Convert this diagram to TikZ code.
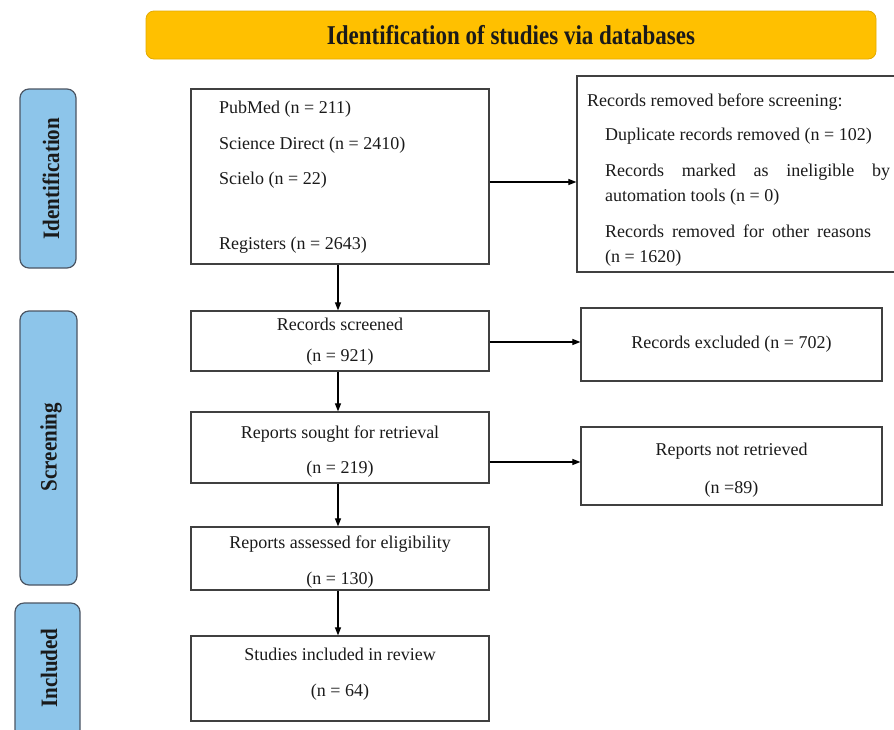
\documentclass[tikz,border=0pt]{standalone}
\usepackage{fontspec}
\setmainfont{Liberation Serif}
\usetikzlibrary{arrows.meta}
\definecolor{boxgray}{HTML}{404040}
\definecolor{sideblue}{HTML}{8DC5EA}
\definecolor{sideline}{HTML}{4B5563}
\definecolor{bannerfill}{HTML}{FFC000}
\definecolor{bannerline}{HTML}{E3AA00}
\definecolor{ink}{HTML}{1A1A1A}
\begin{document}
\begin{tikzpicture}[x=1pt,y=-1pt,
  box/.style={draw=boxgray, line width=1.2pt, rectangle, inner sep=0pt},
  side/.style={draw=sideline, fill=sideblue, line width=1.2pt, rounded corners=9pt, inner sep=0pt},
  banner/.style={draw=bannerline, fill=bannerfill, line width=0.8pt, rounded corners=8pt, inner sep=0pt},
  txt/.style={font=\fontsize{18}{22}\selectfont, text=ink, inner sep=0pt},
  lab/.style={font=\fontsize{21}{24}\selectfont\bfseries, text=ink, rotate=90, inner sep=0pt},
  arr/.style={-{Triangle[length=8pt,width=6pt]}, line width=1.1pt, draw=black}]
\useasboundingbox (0,0) rectangle (894,729);
\clip (0,0) rectangle (894,729);

% banner
\node[banner, minimum width=730pt, minimum height=48pt] (title) at (511,35) {};
\node[inner sep=0pt, text=ink] (titletxt) at (511,35) {\scalebox{1}[1.18]{\fontsize{23}{26}\selectfont\bfseries Identification of studies via databases}};

% side bars
\node[side, minimum width=56pt, minimum height=179pt] (sideid) at (48,178.5) {};
\node[lab] (sideidtxt) at (51,178.5) {\scalebox{1}[1.12]{Identification}};
\node[side, minimum width=57pt, minimum height=274pt] (sidescr) at (48.5,448) {};
\node[lab] (sidescrtxt) at (51,447) {\scalebox{1}[1.12]{Screening}};
\node[side, minimum width=65pt, minimum height=150pt] (sideinc) at (47.5,678) {};
\node[lab] (sideinctxt) at (49,668) {\scalebox{1}[1.12]{Included}};

% main column boxes
\node[box, minimum width=298pt, minimum height=175pt] (src) at (340,176.5) {};
\node[box, minimum width=298pt, minimum height=60pt] (scr) at (340,341) {};
\node[box, minimum width=298pt, minimum height=71pt] (sought) at (340,447.5) {};
\node[box, minimum width=298pt, minimum height=63pt] (assess) at (340,558.5) {};
\node[box, minimum width=298pt, minimum height=85pt] (incl) at (340,678.5) {};

% right column boxes
\node[box, minimum width=340pt, minimum height=196pt] (removed) at (747,174) {};
\node[box, minimum width=301pt, minimum height=73pt] (excl) at (731.5,344.5) {};
\node[box, minimum width=301pt, minimum height=78pt] (notret) at (731.5,466) {};

% texts: sources
\node[txt, anchor=base west] (t1) at (219,113) {PubMed (n = 211)};
\node[txt, anchor=base west] (t2) at (219,149) {Science Direct (n = 2410)};
\node[txt, anchor=base west] (t3) at (219,184) {Scielo (n = 22)};
\node[txt, anchor=base west] (t4) at (219,249) {Registers (n = 2643)};

% texts: removed
\node[txt, anchor=base west] (r0) at (587,106) {Records removed before screening:};
\node[txt, anchor=base west] (r1) at (605,140) {Duplicate records removed (n = 102)};
\node[txt, anchor=base west] (r2) at (605,176) {\makebox[285pt][s]{Records marked as ineligible by}};
\node[txt, anchor=base west] (r3) at (605,201) {automation tools (n = 0)};
\node[txt, anchor=base west] (r4) at (605,237) {\makebox[266pt][s]{Records removed for other reasons}};
\node[txt, anchor=base west] (r5) at (605,262) {(n = 1620)};

% texts: other boxes
\node[txt, anchor=base] (s1) at (340,330) {Records screened};
\node[txt, anchor=base] (s2) at (340,361) {(n = 921)};
\node[txt, anchor=base] (e1) at (731.5,348) {Records excluded (n = 702)};
\node[txt, anchor=base] (g1) at (340,438) {Reports sought for retrieval};
\node[txt, anchor=base] (g2) at (340,473) {(n = 219)};
\node[txt, anchor=base] (n1) at (731.5,455) {Reports not retrieved};
\node[txt, anchor=base] (n2) at (731.5,493) {(n =89)};
\node[txt, anchor=base] (a1) at (340,548) {Reports assessed for eligibility};
\node[txt, anchor=base] (a2) at (340,584) {(n = 130)};
\node[txt, anchor=base] (i1) at (340,660) {Studies included in review};
\node[txt, anchor=base] (i2) at (340,696) {(n = 64)};

% connectors
\draw[arr] (src.south -| 338,0) -- (scr.north -| 338,0);
\draw[arr] (scr.south -| 338,0) -- (sought.north -| 338,0);
\draw[arr] (sought.south -| 338,0) -- (assess.north -| 338,0);
\draw[arr] (assess.south -| 338,0) -- (incl.north -| 338,0);
\draw[arr] (src.east |- 0,182) -- (removed.west |- 0,182);
\draw[arr] (scr.east |- 0,342) -- (excl.west |- 0,342);
\draw[arr] (sought.east |- 0,462) -- (notret.west |- 0,462);
\end{tikzpicture}
\end{document}
